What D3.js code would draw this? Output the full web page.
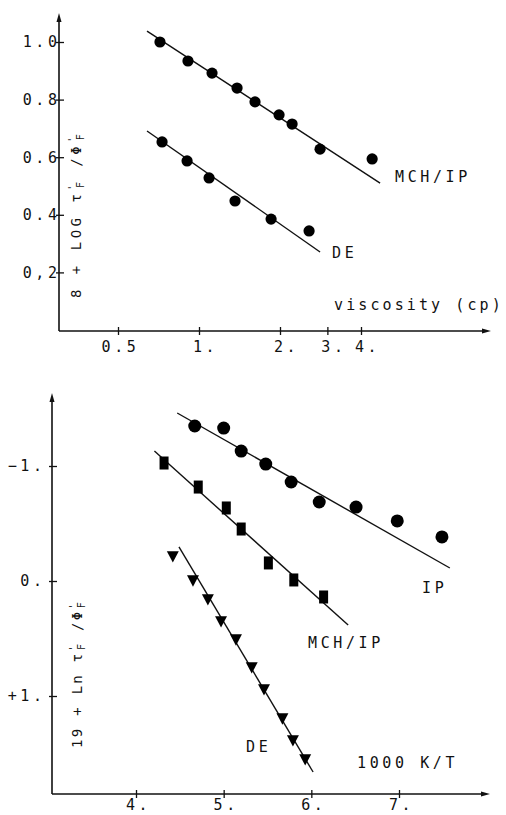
<!DOCTYPE html>
<html>
<head>
<meta charset="utf-8">
<script src="https://cdn.jsdelivr.net/npm/d3@7"></script>
<style>
  html, body { margin: 0; padding: 0; background: #fff; }
  svg { display: block; }
  text { font-family: "DejaVu Sans Mono", monospace; fill: #111; }
</style>
</head>
<body>
<svg id="chart" width="506" height="815"></svg>
<script>
/* two stacked panels: log(viscosity) plot on top, Arrhenius-style plot below */

// ---- top panel: 8 + log(tau/phi) vs viscosity (cp) ----
const topMchX = [0.716, 0.910, 1.118, 1.385, 1.615, 1.984, 2.218, 2.818, 4.40];
const topMchY = [1.000, 0.934, 0.892, 0.840, 0.792, 0.747, 0.715, 0.628, 0.594];
const topMchFit = [[0.641, 1.038], [4.71, 0.510]];

const topDeX = [0.729, 0.903, 1.090, 1.361, 1.853, 2.565];
const topDeY = [0.653, 0.587, 0.528, 0.448, 0.385, 0.344];
const topDeFit = [[0.641, 0.691], [2.818, 0.271]];

const topYTicks = [1.0, 0.8, 0.6, 0.4, 0.2];
const topYLabels = ['1.0', '0.8', '0.6', '0.4', '0,2'];
const topXTicks = [0.5, 1, 2, 3, 4];
const topXLabels = ['0.5', '1.', '2.', '3.', '4.'];

// ---- bottom panel: 19 + ln(tau/phi) vs 1000 K/T ----
const botIpX = [4.67, 5.00, 5.20, 5.48, 5.77, 6.09, 6.51, 6.98, 7.49];
const botIpY = [-1.348, -1.330, -1.130, -1.017, -0.861, -0.687, -0.643, -0.522, -0.383];
const botIpFit = [[4.47, -1.461], [7.58, -0.113]];

const botMchX = [4.32, 4.71, 5.03, 5.20, 5.51, 5.80, 6.14];
const botMchY = [-1.026, -0.817, -0.635, -0.452, -0.157, -0.009, 0.139];
const botMchFit = [[4.21, -1.130], [6.42, 0.383]];

const botDeX = [4.42, 4.65, 4.82, 4.97, 5.14, 5.32, 5.46, 5.67, 5.79, 5.93];
const botDeY = [-0.226, -0.017, 0.148, 0.339, 0.496, 0.739, 0.930, 1.183, 1.374, 1.539];
const botDeFit = [[4.49, -0.296], [6.02, 1.661]];

const botYTicks = [-1, 0, 1];
const botYLabels = ['\u22121.', '0.', '+1.'];
const botXTicks = [4, 5, 6, 7];
const botXLabels = ['4.', '5.', '6.', '7.'];

const svg = d3.select('#chart');
const FS = 15, LS = 3.6;     // wide plotter-style lettering

const xTop = d3.scaleLog().domain([0.5, 4]).range([118, 361]);
const yTop = d3.scaleLinear().domain([0, 1]).range([330, 42]);
const xBot = d3.scaleLinear().domain([4, 7]).range([136, 399]);
const yBot = d3.scaleLinear().domain([-1, 1]).range([466, 696]);

const zip = (xs, ys) => xs.map((x, i) => [x, ys[i]]);

function arrowAxes(g, ox, oy, xEnd, yEnd) {
  g.append('line').attr('x1', ox).attr('y1', oy).attr('x2', xEnd - 4).attr('y2', oy)
    .attr('stroke', '#111').attr('stroke-width', 1.6);
  g.append('line').attr('x1', ox).attr('y1', oy).attr('x2', ox).attr('y2', yEnd + 4)
    .attr('stroke', '#111').attr('stroke-width', 1.6);
  g.append('path').attr('d', `M${xEnd},${oy} L${xEnd - 9},${oy - 2.5} L${xEnd - 9},${oy + 2.5} Z`).attr('fill', '#111');
  g.append('path').attr('d', `M${ox},${yEnd} L${ox - 2.5},${yEnd + 9} L${ox + 2.5},${yEnd + 9} Z`).attr('fill', '#111');
}

function styleText(sel) {
  sel.attr('font-size', FS).attr('letter-spacing', LS + 'px')
    .attr('font-family', '"DejaVu Sans Mono", monospace').attr('fill', '#111');
}

// labelEnd: x (relative to axis) where the last glyph should end
function yTicks(g, scale, ox, values, labels, labelEnd) {
  const ax = d3.axisLeft(scale).tickValues(values).tickFormat((d, i) => labels[i]).tickSize(3);
  const a = g.append('g').attr('transform', `translate(${ox},0)`).call(ax);
  a.select('.domain').remove();
  a.selectAll('.tick line').attr('x2', -3).attr('x1', 5).attr('stroke', '#111').attr('stroke-width', 1.3);
  styleText(a.selectAll('.tick text').attr('x', labelEnd + LS));
  a.attr('font-size', null).attr('font-family', null);
}

function xTicks(g, scale, oy, values, labels, dx, pad) {
  const ax = d3.axisBottom(scale).tickValues(values).tickFormat((d, i) => labels[i])
    .tickSize(4).tickPadding(pad);
  const a = g.append('g').attr('transform', `translate(0,${oy})`).call(ax);
  a.select('.domain').remove();
  a.selectAll('.tick line').attr('y1', -4).attr('y2', 4).attr('stroke', '#111').attr('stroke-width', 1.3);
  styleText(a.selectAll('.tick text'));
  a.selectAll('.tick text').attr('dx', (d, i) => labels[i].endsWith('.') ? dx : 2);
  a.attr('font-size', null).attr('font-family', null);
}

function fitLine(g, x, y, pts) {
  g.append('path').attr('d', d3.line().x(d => x(d[0])).y(d => y(d[1]))(pts))
    .attr('fill', 'none').attr('stroke', '#111').attr('stroke-width', 1.4);
}

function label(g, x, y, txt) {
  const t = g.append('text').attr('x', x).attr('y', y).text(txt);
  styleText(t);
  return t;
}

// rotated axis title with tau'_F / Phi'_F
function yTitle(g, x, y, head, ls) {
  const t = g.append('text').attr('transform', `translate(${x},${y}) rotate(-90)`)
    .attr('font-size', 14).attr('letter-spacing', ls);
  t.append('tspan').text(head + ' \u03c4');
  t.append('tspan').attr('font-size', 10).attr('baseline-shift', '55%').text("'");
  t.append('tspan').attr('font-size', 10).attr('dx', -7).attr('baseline-shift', '-25%').text('F');
  t.append('tspan').text(' /\u03a6');
  t.append('tspan').attr('font-size', 10).attr('baseline-shift', '55%').text("'");
  t.append('tspan').attr('font-size', 10).attr('dx', -7).attr('baseline-shift', '-25%').text('F');
}

// ================= top panel =================
const gT = svg.append('g');
arrowAxes(gT, 59, 331, 491, 13);
yTicks(gT, yTop, 59, topYTicks, topYLabels, -2);
xTicks(gT, xTop, 331, topXTicks, topXLabels, 6, 6);

fitLine(gT, xTop, yTop, topMchFit);
fitLine(gT, xTop, yTop, topDeFit);

gT.append('g').selectAll('circle').data(zip(topMchX, topMchY).concat(zip(topDeX, topDeY)))
  .join('circle').attr('cx', d => xTop(d[0])).attr('cy', d => yTop(d[1]))
  .attr('r', 5.6).attr('fill', '#000');

label(gT, 395, 182, 'MCH/IP');
label(gT, 332, 258, 'DE');
label(gT, 334, 310, 'viscosity (cp)').attr('letter-spacing', '3.1px');
yTitle(gT, 81, 298, '8 + LOG', '3.5px');

// ================= bottom panel =================
const gB = svg.append('g');
arrowAxes(gB, 52, 794, 490, 393);
yTicks(gB, yBot, 52, botYTicks, botYLabels, -10);
xTicks(gB, xBot, 794, botXTicks, botXLabels, 2, 1);

fitLine(gB, xBot, yBot, botIpFit);
fitLine(gB, xBot, yBot, botMchFit);
fitLine(gB, xBot, yBot, botDeFit);

gB.append('g').selectAll('circle').data(zip(botIpX, botIpY))
  .join('circle').attr('cx', d => xBot(d[0])).attr('cy', d => yBot(d[1]))
  .attr('r', 6.5).attr('fill', '#000');

gB.append('g').selectAll('rect').data(zip(botMchX, botMchY))
  .join('rect').attr('x', d => xBot(d[0]) - 4.5).attr('y', d => yBot(d[1]) - 6.5)
  .attr('width', 9).attr('height', 13).attr('fill', '#000');

const tri = d3.symbol(d3.symbolTriangle, 62);
gB.append('g').selectAll('path').data(zip(botDeX, botDeY))
  .join('path').attr('d', tri)
  .attr('transform', d => `translate(${xBot(d[0])},${yBot(d[1])}) rotate(180) scale(1,1.1)`)
  .attr('fill', '#000');

label(gB, 422, 593, 'IP');
label(gB, 308, 648, 'MCH/IP');
label(gB, 246, 752, 'DE');
label(gB, 357, 768, '1000 K/T');
yTitle(gB, 82, 748, '19 + Ln', '2.3px');
</script>
</body>
</html>
